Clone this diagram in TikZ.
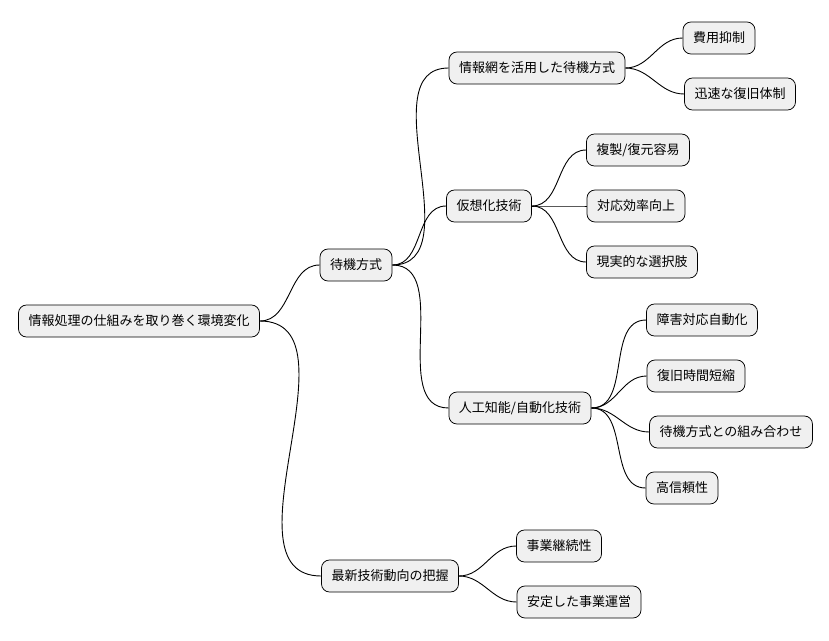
\documentclass[tikz,border=0pt]{standalone}
\usepackage{fontspec}
\newfontfamily\cjk{Noto Sans CJK JP}
\tikzset{every picture/.style={line width=0.75pt}}
\tikzset{
  idea/.style={draw=black, fill=black!6, rounded corners=8pt, minimum height=32pt,
    inner xsep=10pt, font=\cjk\fontsize{13pt}{15pt}\selectfont},
  branch/.style={draw=black, line width=0.9pt}
}
\newcommand{\linkto}[2]{\draw[branch] (#1.east) to[out=0,in=180] (#2.west);}
\begin{document}
\begin{tikzpicture}[x=1pt,y=-1pt]
		\useasboundingbox (0,0) rectangle (829,640);
		\node[idea] (root) at (139,321) {情報処理の仕組みを取り巻く環境変化};
		\node[idea] (standby) at (356,265) {待機方式};
		\node[idea] (trend) at (390,576) {最新技術動向の把握};
		\node[idea] (net) at (537,68) {情報網を活用した待機方式};
		\node[idea] (virt) at (489,206) {仮想化技術};
		\node[idea] (ai) at (520,408) {人工知能/自動化技術};
		\node[idea] (cost) at (719,38) {費用抑制};
		\node[idea] (quick) at (740,94) {迅速な復旧体制};
		\node[idea] (copy) at (638,150) {複製/復元容易};
		\node[idea] (eff) at (636,206) {対応効率向上};
		\node[idea] (real) at (642,262) {現実的な選択肢};
		\node[idea] (auto) at (702,320) {障害対応自動化};
		\node[idea] (short) at (696,376) {復旧時間短縮};
		\node[idea] (combo) at (731,432) {待機方式との組み合わせ};
		\node[idea] (rel) at (682,488) {高信頼性};
		\node[idea] (bcp) at (559,546) {事業継続性};
		\node[idea] (stable) at (579,602) {安定した事業運営};
		\linkto{root}{standby}
		\linkto{root}{trend}
		\linkto{standby}{net}
		\linkto{standby}{virt}
		\linkto{standby}{ai}
		\linkto{net}{cost}
		\linkto{net}{quick}
		\linkto{virt}{copy}
		\linkto{virt}{eff}
		\linkto{virt}{real}
		\linkto{ai}{auto}
		\linkto{ai}{short}
		\linkto{ai}{combo}
		\linkto{ai}{rel}
		\linkto{trend}{bcp}
		\linkto{trend}{stable}
	\end{tikzpicture}
\end{document}
